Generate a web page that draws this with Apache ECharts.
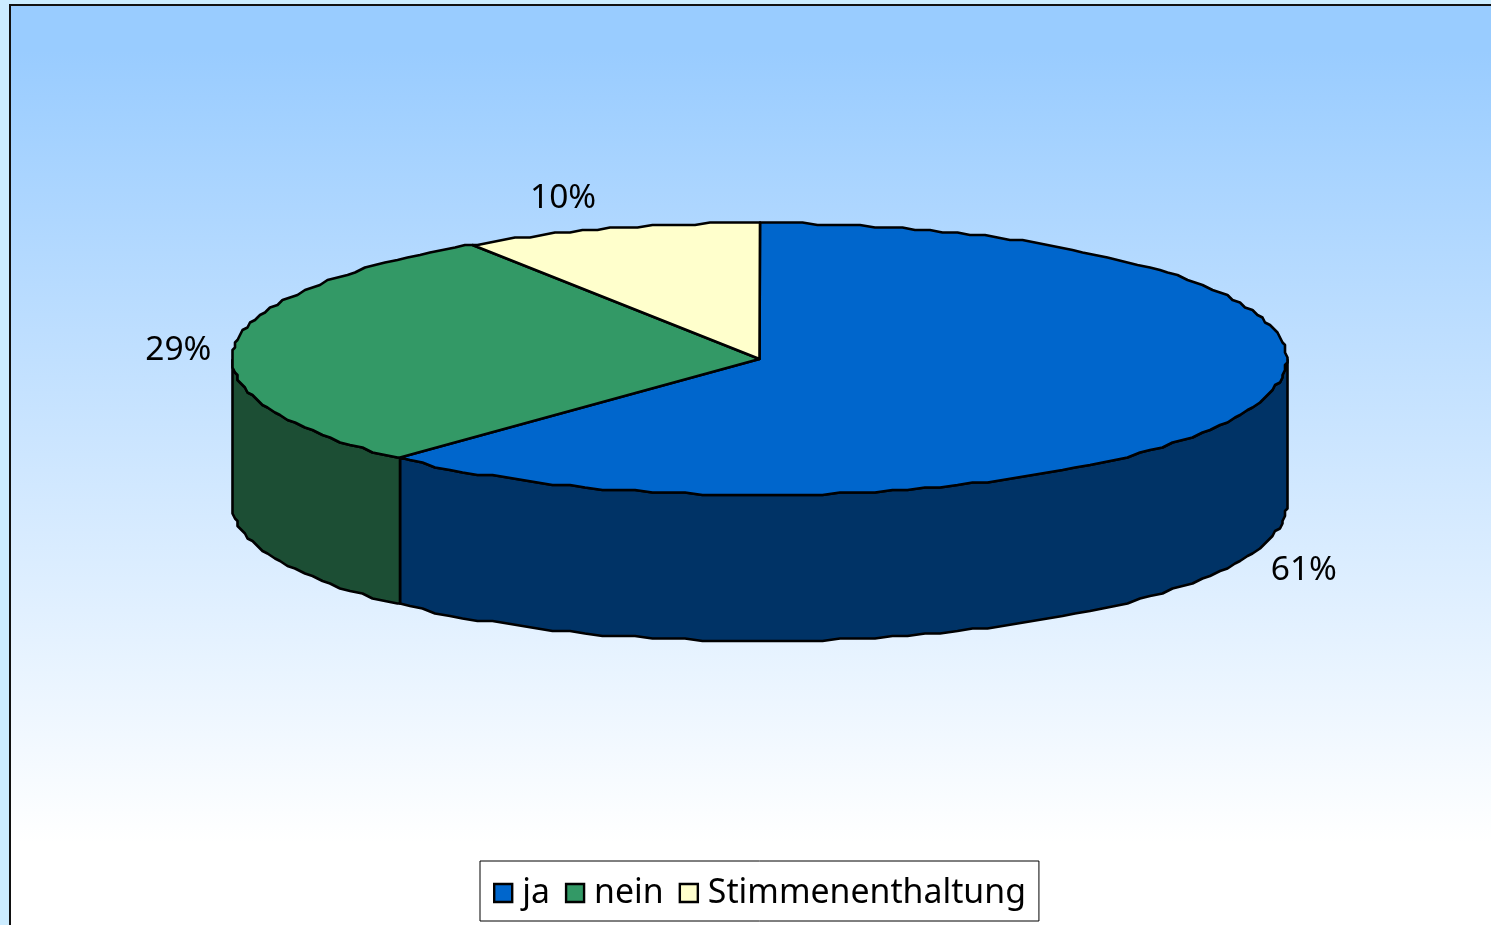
<!DOCTYPE html>
<html>
<head>
<meta charset="utf-8">
<title>Abstimmung</title>
<style>
html,body{margin:0;padding:0;background:#CCECFF;}
#chartDiv{width:1491px;height:925px;}
</style>
<script src="https://cdn.jsdelivr.net/npm/echarts@6/dist/echarts.min.js"></script>
</head>
<body>
<div id="chartDiv"></div>
<script>
// Daten
var categories = ['ja', 'nein', 'Stimmenenthaltung'];
var shares = [61, 29, 10];
var topColors = ['#0066CC', '#339966', '#FFFFCC'];
var sideColors = ['#003366', '#1C4E34', '#8C8C70'];

// Lage der Torte
var pie = {cx: 759.5, cy: 359, rx: 527, ry: 136, depth: 146, tilt: 0.09, grid: 2.5, step: 0.03};
var labelShift = [[35, 31], [-58, 8], [-47, -30]];
var font = '"Noto Sans", sans-serif';

// Winkel (ab 12 Uhr, im Uhrzeigersinn) auf die perspektivische Ellipse abbilden
function project(theta) {
    var s = Math.sin(theta), c = Math.cos(theta), d = 1 + pie.tilt * c;
    return [s * Math.sqrt(1 - pie.tilt * pie.tilt) / d, (c + pie.tilt) / d];
}
function toPixel(p, dy) {
    return [
        Math.round((pie.cx + pie.rx * p[0]) / pie.grid) * pie.grid,
        Math.round((pie.cy - pie.ry * p[1]) / pie.grid) * pie.grid + (dy || 0)
    ];
}
function arc(from, to, dy) {
    var pts = [toPixel(project(from), dy)];
    for (var k = Math.ceil(from / pie.step); k * pie.step < to; k++) {
        pts.push(toPixel(project(k * pie.step), dy));
    }
    pts.push(toPixel(project(to), dy));
    return pts;
}

function makeItem(index) {
    return function (params, api) {
        var before = 0;
        for (var i = 0; i < index; i++) before += shares[i];
        var from = before / 100 * 2 * Math.PI;
        var to = from + api.value(0) / 100 * 2 * Math.PI;
        var children = [];
        var edge = {stroke: '#000', lineWidth: 2.6, lineJoin: 'round'};

        // Seitenwand nur auf der Vorderseite
        var right = Math.acos(-pie.tilt), left = 2 * Math.PI - right;
        var wFrom = Math.max(from, right), wTo = Math.min(to, left);
        if (wTo > wFrom) {
            var upper = arc(wFrom, wTo, 0);
            var lower = arc(wFrom, wTo, pie.depth).reverse();
            children.push({
                type: 'polygon',
                shape: {points: upper.concat(lower)},
                style: Object.assign({fill: sideColors[index]}, edge)
            });
        }
        // Deckel
        children.push({
            type: 'polygon',
            shape: {points: [[pie.cx, pie.cy]].concat(arc(from, to, 0))},
            style: Object.assign({fill: topColors[index]}, edge)
        });
        // Beschriftung
        var mid = project((from + to) / 2);
        children.push({
            type: 'text',
            x: pie.cx + pie.rx * mid[0] + labelShift[index][0],
            y: pie.cy - pie.ry * mid[1] + labelShift[index][1] + (index === 0 ? pie.depth : 0),
            style: {
                text: api.value(0) + '%',
                fill: '#000',
                font: '33.5px ' + font,
                align: 'center',
                verticalAlign: 'middle'
            }
        });
        return {type: 'group', children: children};
    };
}

var series = categories.map(function (name, i) {
    return {
        type: 'custom',
        name: name,
        coordinateSystem: 'none',
        silent: true,
        clip: false,
        itemStyle: {color: topColors[i]},
        renderItem: makeItem(i),
        data: [[shares[i]]]
    };
});

var myChart = echarts.init(document.getElementById('chartDiv'));
myChart.setOption({
    animation: false,
    backgroundColor: '#CCECFF',
    graphic: [{
        type: 'rect',
        z: -10,
        silent: true,
        shape: {x: 10, y: 5, width: 1490, height: 930},
        style: {
            stroke: '#111',
            lineWidth: 2,
            fill: {
                type: 'linear', x: 0, y: 0, x2: 0, y2: 1,
                colorStops: [
                    {offset: 0.05, color: '#99CCFF'},
                    {offset: 0.9, color: '#FFFFFF'}
                ]
            }
        }
    }],
    legend: {
        left: 480,
        top: 861,
        data: categories,
        icon: 'rect',
        itemWidth: 18,
        itemHeight: 18,
        itemGap: 15,
        padding: [15, 13, 11, 13],
        backgroundColor: '#fff',
        borderColor: '#000',
        borderWidth: 1,
        selectedMode: false,
        itemStyle: {borderColor: '#000', borderWidth: 2.4},
        textStyle: {fontFamily: font, fontSize: 33.8, color: '#000', padding: [0, 0, 0, 5]}
    },
    series: series
});
window.onresize = myChart.resize;
</script>
</body>
</html>
